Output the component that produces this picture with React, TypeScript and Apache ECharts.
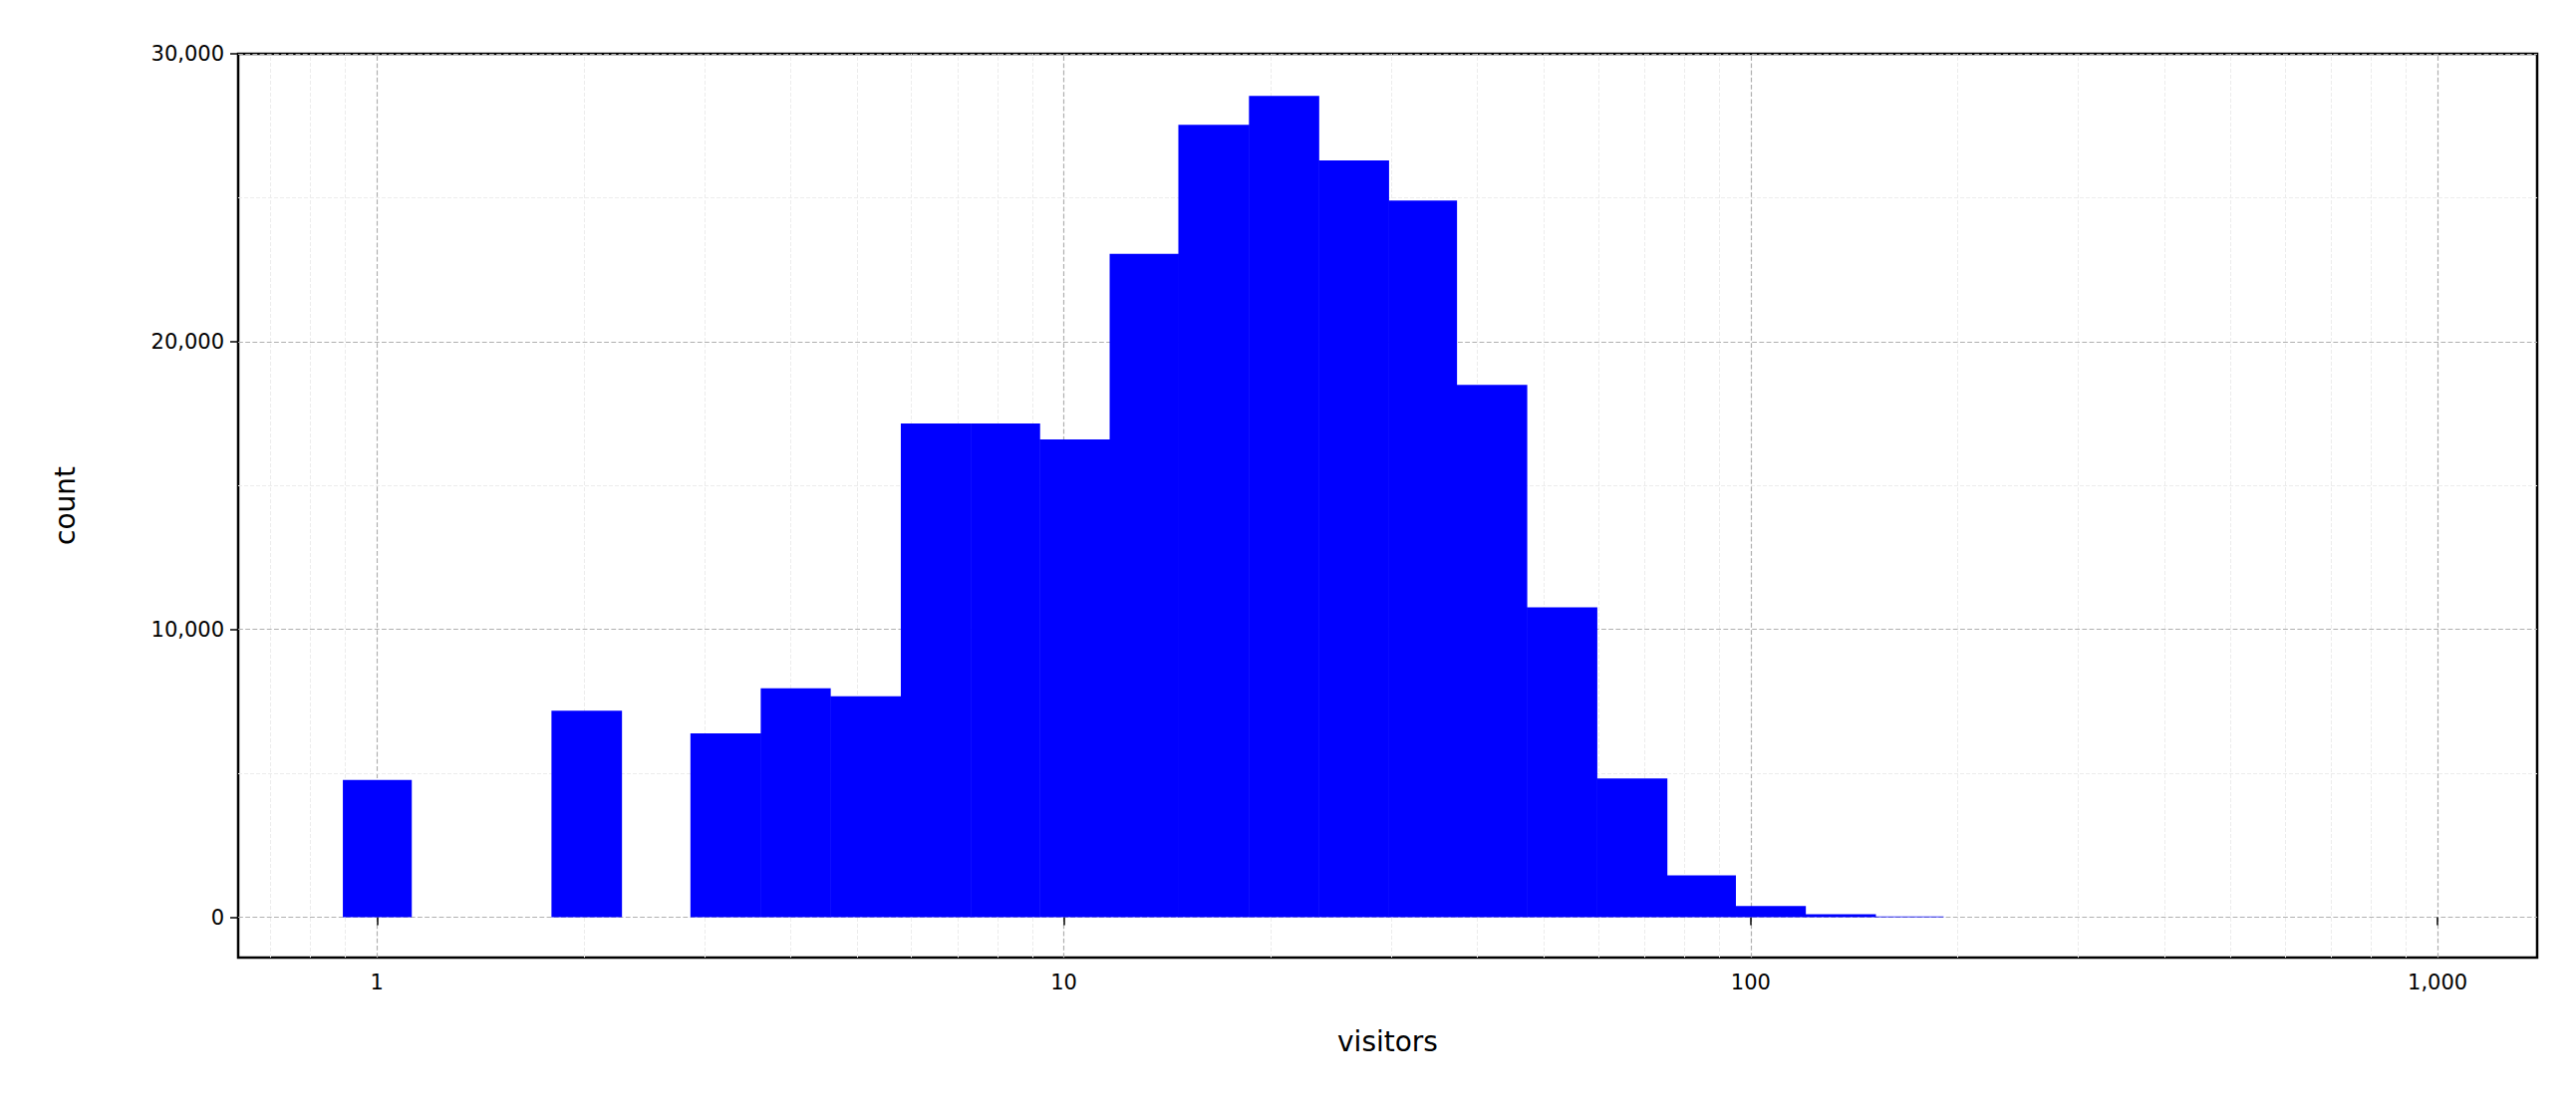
import React, { useEffect, useRef } from 'react'
import * as echarts from 'echarts'

// bin edges (log spaced) and counts
const binEdges = [0.892, 1.122, 1.419, 1.795, 2.27, 2.86, 3.62, 4.57, 5.79, 7.32, 9.22, 11.66, 14.68, 18.6, 23.5, 29.7, 37.3, 47.2, 59.7, 75.5, 95.0, 120.1, 151.9, 190.6]
const binCounts = [4770, 0, 0, 7180, 0, 6390, 7960, 7680, 17160, 17160, 16600, 23050, 27530, 28540, 26300, 24900, 18500, 10770, 4820, 1460, 390, 110, 30]
const xMajor = [1, 10, 100, 1000]
const xMinor = [0.7, 0.8, 0.9, 2, 3, 4, 5, 6, 7, 8, 9, 20, 30, 40, 50, 60, 70, 80, 90, 200, 300, 400, 500, 600, 700, 800, 900]
const yMajor = [0, 10000, 20000, 30000]
const yMinor = [5000, 15000, 25000]

export default function App() {
  const ref = useRef<HTMLDivElement>(null)

  useEffect(() => {
    if (!ref.current) return
    const chart = echarts.init(ref.current, null, { renderer: 'svg' })

    const bins = binCounts.map((c, i) => [binEdges[i], binEdges[i + 1], c])

    const gridLines = [
      ...xMajor.map(v => ({ xAxis: v, lineStyle: { color: '#b0b0b0', width: 1.2 } })),
      ...xMinor.map(v => ({ xAxis: v, lineStyle: { color: '#ececec', width: 1 } })),
      ...yMajor.map(v => ({ yAxis: v, lineStyle: { color: '#b0b0b0', width: 1.2 } })),
      ...yMinor.map(v => ({ yAxis: v, lineStyle: { color: '#ececec', width: 1 } })),
    ]

    chart.setOption({
      animation: false,
      grid: { left: 231, right: 31, top: 46, bottom: 152, show: true, borderColor: '#000', borderWidth: 2.5, backgroundColor: '#fff' },
      xAxis: {
        type: 'log',
        logBase: 10,
        min: 0.628,
        max: 1396,
        name: 'visitors',
        nameLocation: 'middle',
        nameGap: 70,
        nameTextStyle: { fontSize: 28, fontFamily: 'DejaVu Sans', color: '#000' },
        axisLine: { show: false },
        axisTick: { show: true, customValues: xMajor, length: 8, inside: false, lineStyle: { color: '#000', width: 1.5 } },
        axisLabel: { customValues: xMajor, fontSize: 21, fontFamily: 'DejaVu Sans', color: '#000', margin: 14 },
        splitLine: { show: false },
      },
      yAxis: {
        type: 'value',
        min: -1400,
        max: 30000,
        name: 'count',
        nameLocation: 'middle',
        nameGap: 160,
        nameTextStyle: { fontSize: 28, fontFamily: 'DejaVu Sans', color: '#000' },
        axisLine: { show: false },
        axisTick: { show: true, customValues: yMajor, length: 8, lineStyle: { color: '#000', width: 1.5 } },
        axisLabel: { customValues: yMajor, fontSize: 21, fontFamily: 'DejaVu Sans', color: '#000', margin: 14 },
        splitLine: { show: false },
      },
      series: [
        {
          type: 'custom',
          data: bins,
          encode: { x: [0, 1], y: 2 },
          renderItem: (_params: any, api: any) => {
            const p0 = api.coord([api.value(0), 0])
            const p1 = api.coord([api.value(1), api.value(2)])
            return {
              type: 'rect',
              shape: { x: p0[0], y: p1[1], width: p1[0] - p0[0] + 0.5, height: p0[1] - p1[1] },
              style: { fill: '#0000ff' },
            }
          },
          markLine: {
            silent: true,
            symbol: 'none',
            label: { show: false },
            z: 0,
            data: gridLines,
          },
          z: 2,
        },
      ],
    })

    return () => chart.dispose()
  }, [])

  return <div ref={ref} style={{ width: 2569, height: 1105 }} />
}
